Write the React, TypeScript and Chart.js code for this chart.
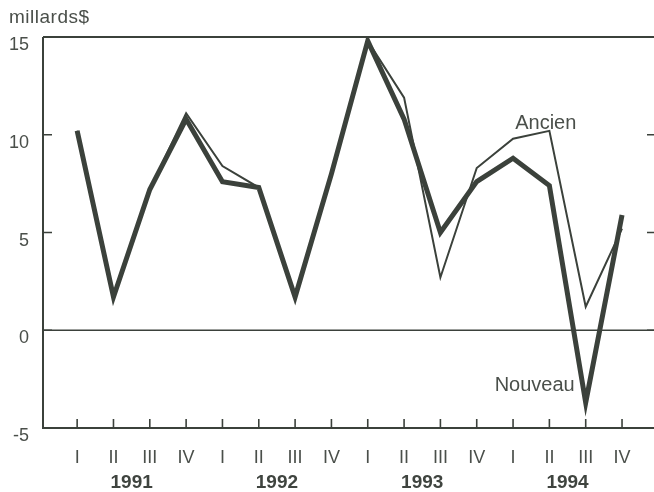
import React, { useEffect, useRef } from "react";
import { Chart, registerables } from "chart.js";

Chart.register(...registerables);

const quarters = ["I", "II", "III", "IV", "I", "II", "III", "IV", "I", "II", "III", "IV", "I", "II", "III", "IV"];
const years = ["1991", "1992", "1993", "1994"];
const ancien = [10.2, 1.8, 7.2, 11.1, 8.4, 7.3, 1.75, 8.0, 14.8, 11.9, 2.7, 8.3, 9.8, 10.2, 1.2, 5.2];
const nouveau = [10.2, 1.7, 7.2, 10.8, 7.6, 7.3, 1.7, 8.0, 14.8, 10.8, 5.0, 7.6, 8.8, 7.4, -3.7, 5.9];
const yTicks = [15, 10, 5, 0, -5];
const unitLabel = "millards$";
const seriesNames = ["Ancien", "Nouveau"];

const INK = "#3b413b";
const TEXT = "#4a4f4a";
const FONT = "'Liberation Sans', Arial, sans-serif";

const decorPlugin = {
  id: "decor",
  beforeDatasetsDraw(chart: any) {
    const { ctx, chartArea, scales } = chart;
    const xs = scales.x;
    const ys = scales.y;
    ctx.save();
    ctx.strokeStyle = INK;
    ctx.lineCap = "butt";
    // zero line
    ctx.lineWidth = 1.6;
    const y0 = ys.getPixelForValue(0);
    ctx.beginPath();
    ctx.moveTo(chartArea.left, y0);
    ctx.lineTo(chartArea.right, y0);
    ctx.stroke();
    // frame: left, top, bottom
    ctx.lineWidth = 2;
    ctx.beginPath();
    ctx.moveTo(chartArea.left, chartArea.top);
    ctx.lineTo(chartArea.right, chartArea.top);
    ctx.moveTo(chartArea.left, chartArea.top);
    ctx.lineTo(chartArea.left, chartArea.bottom);
    ctx.lineTo(chartArea.right, chartArea.bottom);
    ctx.stroke();
    // y ticks inward, left and right
    ctx.lineWidth = 1.6;
    yTicks.forEach((t) => {
      const py = ys.getPixelForValue(t);
      ctx.beginPath();
      ctx.moveTo(chartArea.left, py);
      ctx.lineTo(chartArea.left + 9, py);
      ctx.moveTo(chartArea.right - 7, py);
      ctx.lineTo(chartArea.right, py);
      ctx.stroke();
    });
    // x ticks inward
    quarters.forEach((_, i) => {
      const px = xs.getPixelForValue(i);
      ctx.beginPath();
      ctx.moveTo(px, chartArea.bottom);
      ctx.lineTo(px, chartArea.bottom - 9);
      ctx.stroke();
    });
    ctx.restore();
  },
  afterDatasetsDraw(chart: any) {
    const { ctx, chartArea, scales } = chart;
    const xs = scales.x;
    const ys = scales.y;
    ctx.save();
    ctx.fillStyle = TEXT;
    ctx.textBaseline = "alphabetic";
    // y tick labels
    ctx.font = `18px ${FONT}`;
    ctx.textAlign = "right";
    yTicks.forEach((t) => {
      ctx.fillText(String(t), 29, ys.getPixelForValue(t) + 13);
    });
    // unit label
    ctx.textAlign = "left";
    ctx.font = `19px ${FONT}`;
    (ctx as any).letterSpacing = "0.5px";
    ctx.fillText(unitLabel, 9, 23);
    (ctx as any).letterSpacing = "0px";
    // quarter labels
    ctx.textAlign = "center";
    ctx.font = `18px ${FONT}`;
    quarters.forEach((q, i) => {
      ctx.fillText(q, xs.getPixelForValue(i), chartArea.bottom + 35);
    });
    // year labels
    ctx.font = `bold 19px ${FONT}`;
    ctx.fillStyle = "#3f443f";
    years.forEach((yr, k) => {
      ctx.fillText(yr, xs.getPixelForValue(k * 4 + 1.5), chartArea.bottom + 60);
    });
    // series annotations
    ctx.fillStyle = TEXT;
    ctx.font = `20px ${FONT}`;
    ctx.textAlign = "center";
    ctx.fillText(seriesNames[0], xs.getPixelForValue(12.9), ys.getPixelForValue(10.3));
    ctx.textAlign = "right";
    ctx.fillText(seriesNames[1], xs.getPixelForValue(14) - 11, ys.getPixelForValue(-3.1));
    ctx.restore();
  },
};

export default function App() {
  const ref = useRef<HTMLCanvasElement | null>(null);
  useEffect(() => {
    if (!ref.current) return;
    const chart = new Chart(ref.current, {
      type: "line",
      data: {
        datasets: [
          {
            label: seriesNames[0],
            data: ancien.map((v, i) => ({ x: i, y: v })),
            borderColor: INK,
            borderWidth: 2,
            pointRadius: 0,
            tension: 0,
            fill: false,
            order: 2,
          },
          {
            label: seriesNames[1],
            data: nouveau.map((v, i) => ({ x: i, y: v })),
            borderColor: INK,
            borderWidth: 5,
            pointRadius: 0,
            tension: 0,
            fill: false,
            borderJoinStyle: "miter",
            order: 1,
          },
        ],
      },
      options: {
        animation: false,
        responsive: true,
        maintainAspectRatio: false,
        layout: { padding: { left: 43, top: 37, right: 0, bottom: 64 } },
        plugins: { legend: { display: false }, tooltip: { enabled: false } },
        scales: {
          x: { type: "linear", min: -0.94, max: 15.88, display: false },
          y: { type: "linear", min: -5, max: 15, display: false },
        },
      },
      plugins: [decorPlugin],
    });
    return () => chart.destroy();
  }, []);
  return (
    <div style={{ position: "absolute", left: 0, top: 0, width: 654, height: 492, background: "#fff" }}>
      <canvas ref={ref} />
    </div>
  );
}
